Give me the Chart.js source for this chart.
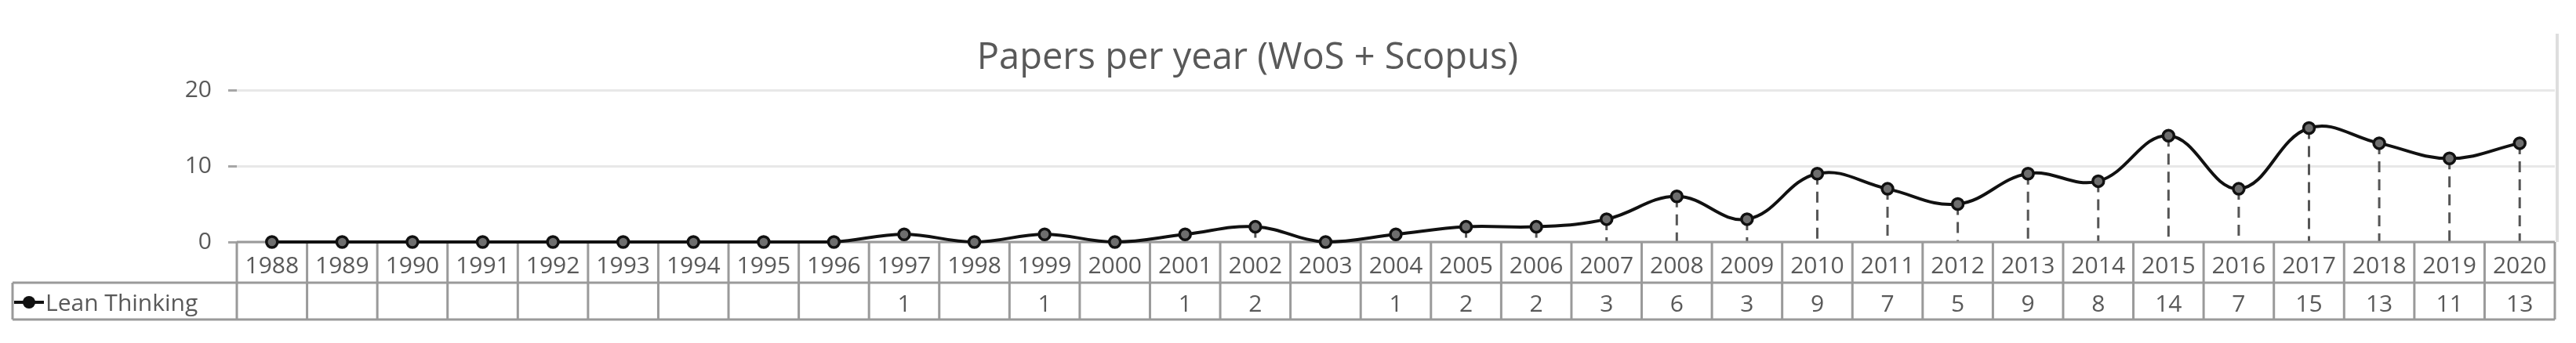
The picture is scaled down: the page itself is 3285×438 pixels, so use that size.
<!DOCTYPE html>
<html>
<head>
<meta charset="utf-8">
<title>Papers per year (WoS + Scopus)</title>
<script src="https://cdn.jsdelivr.net/npm/chart.js@4.4.1/dist/chart.umd.min.js"></script>
<style>
    html, body { margin: 0; padding: 0; background: #ffffff; }
    #paperChart { display: block; }
</style>
</head>
<body>
<canvas id="paperChart" width="3285" height="438"></canvas>
<script>
// chart data
const years = ['1988', '1989', '1990', '1991', '1992', '1993', '1994', '1995', '1996', '1997', '1998',
               '1999', '2000', '2001', '2002', '2003', '2004', '2005', '2006', '2007', '2008', '2009',
               '2010', '2011', '2012', '2013', '2014', '2015', '2016', '2017', '2018', '2019', '2020'];
const papers = [0, 0, 0, 0, 0, 0, 0, 0, 0, 1, 0,
                1, 0, 1, 2, 0, 1, 2, 2, 3, 6, 3,
                9, 7, 5, 9, 8, 14, 7, 15, 13, 11, 13];
const yTicks = [0, 10, 20];
const seriesName = 'Lean Thinking';
const chartTitle = 'Papers per year (WoS + Scopus)';

const FONT = '"Open Sans", "DejaVu Sans", sans-serif';
const TEXT_COLOR = '#595959';
const TABLE_LINE = '#9a9a9a';

document.addEventListener('DOMContentLoaded', () => {
    const canvas = document.getElementById('paperChart');
    const ctx = canvas.getContext('2d');

    // title, drop lines and the data table under the plot (Excel style)
    const tablePlugin = {
        id: 'dataTable',
        beforeDatasetsDraw(chart) {
            const c = chart.ctx;
            const area = chart.chartArea;
            const x = chart.scales.x;
            const meta = chart.getDatasetMeta(0);
            const colW = x.getPixelForValue(1) - x.getPixelForValue(0);
            const rowTop = area.bottom;
            const rowMid = rowTop + 52;
            const rowBottom = rowMid + 47;
            const legendLeft = 16;

            c.save();

            // title
            c.fillStyle = TEXT_COLOR;
            c.font = '47px ' + FONT;
            c.textAlign = 'center';
            c.textBaseline = 'alphabetic';
            c.fillText(chartTitle, 1591, 88);

            // right border of plot area
            c.strokeStyle = '#dedede';
            c.lineWidth = 4;
            c.beginPath();
            c.moveTo(area.right + 3, 43);
            c.lineTo(area.right + 3, rowTop);
            c.stroke();

            // drop lines
            c.strokeStyle = '#555555';
            c.lineWidth = 3;
            c.setLineDash([14, 9]);
            meta.data.forEach((pt, i) => {
                if (papers[i] <= 0) return;
                c.beginPath();
                c.moveTo(pt.x, pt.y);
                c.lineTo(pt.x, rowTop);
                c.stroke();
            });
            c.setLineDash([]);

            // table grid
            c.strokeStyle = TABLE_LINE;
            c.lineWidth = 3;
            const left = x.getPixelForValue(0) - colW / 2;
            const right = x.getPixelForValue(years.length - 1) + colW / 2;
            c.beginPath();
            c.moveTo(left, rowTop);
            c.lineTo(right, rowTop);
            c.moveTo(legendLeft, rowMid);
            c.lineTo(right, rowMid);
            c.moveTo(legendLeft, rowBottom);
            c.lineTo(right, rowBottom);
            c.moveTo(legendLeft, rowMid);
            c.lineTo(legendLeft, rowBottom);
            for (let i = 0; i <= years.length; i++) {
                const gx = left + i * colW;
                c.moveTo(gx, rowTop);
                c.lineTo(gx, rowBottom);
            }
            c.stroke();

            // header and values
            c.fillStyle = TEXT_COLOR;
            c.font = '30px ' + FONT;
            c.textAlign = 'center';
            years.forEach((yr, i) => {
                const cx = x.getPixelForValue(i);
                c.fillText(yr, cx, rowTop + 40);
                if (papers[i] > 0) {
                    c.fillText(String(papers[i]), cx, rowMid + 37);
                }
            });

            // legend key
            const ky = rowMid + 25;
            c.strokeStyle = '#111111';
            c.lineWidth = 4;
            c.beginPath();
            c.moveTo(legendLeft + 2, ky);
            c.lineTo(legendLeft + 40, ky);
            c.stroke();
            c.fillStyle = '#111111';
            c.beginPath();
            c.arc(legendLeft + 21, ky, 8, 0, Math.PI * 2);
            c.fill();
            c.fillStyle = TEXT_COLOR;
            c.textAlign = 'left';
            c.fillText(seriesName, legendLeft + 42, rowMid + 36);

            c.restore();
        }
    };

    new Chart(ctx, {
        type: 'line',
        data: {
            labels: years,
            datasets: [{
                label: seriesName,
                data: papers,
                borderColor: '#111111',
                borderWidth: 4,
                tension: 0.4,
                pointRadius: 7,
                pointBorderWidth: 3.5,
                pointBackgroundColor: '#6e6e6e',
                pointBorderColor: '#111111',
                clip: false
            }]
        },
        options: {
            responsive: false,
            animation: false,
            layout: {
                padding: { top: 115, right: 27, bottom: 129, left: 0 }
            },
            plugins: {
                legend: { display: false },
                title: { display: false },
                tooltip: { enabled: false }
            },
            scales: {
                x: {
                    display: false,
                    offset: true
                },
                y: {
                    min: 0,
                    max: 20,
                    afterFit: function(scale) {
                        scale.width = 302;
                    },
                    afterBuildTicks: function(scale) {
                        scale.ticks = yTicks.map(v => ({ value: v }));
                    },
                    border: { display: false },
                    grid: {
                        color: '#e8e8e8',
                        lineWidth: 3,
                        tickLength: 11,
                        tickColor: '#a6a6a6'
                    },
                    ticks: {
                        padding: 21,
                        color: TEXT_COLOR,
                        font: {
                            size: 30,
                            family: FONT
                        }
                    }
                }
            }
        },
        plugins: [tablePlugin]
    });
});
</script>
</body>
</html>
